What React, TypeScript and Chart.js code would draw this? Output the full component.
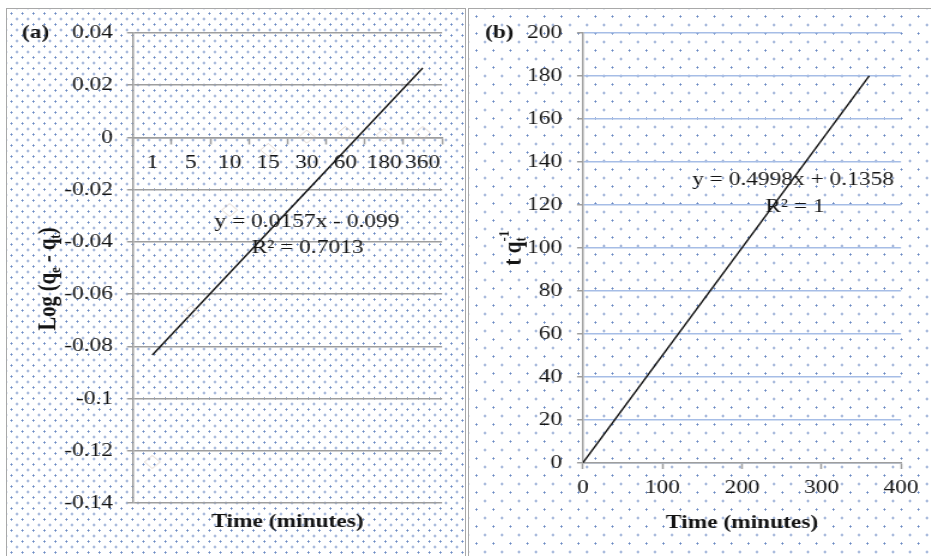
import React, { useEffect, useRef } from 'react';
import { Chart, registerables } from 'chart.js';

Chart.register(...registerables);

// ---------------- data ----------------
// panel (a): pseudo-first-order plot
const timeCategoriesA = ['1', '5', '10', '15', '30', '60', '180', '360'];
const logValuesA = [-0.1243, -0.067, -0.0278, -0.0048, 0.0003, 0.0017, 0.0009, 0.0017];
const trendEndpointsA = [-0.0833, 0.0266];
const yTickValuesA = [-0.14, -0.12, -0.1, -0.08, -0.06, -0.04, -0.02, 0, 0.02, 0.04];
const yTickLabelsA = ['-0.14', '-0.12', '-0.1', '-0.08', '-0.06', '-0.04', '-0.02', '0', '0.02', '0.04'];
const equationA = ['y = 0.0157x - 0.099', 'R² = 0.7013'];

// panel (b): pseudo-second-order plot
const trendTimesB = [0, 360];
const trendValuesB = [0.1358, 180.06];
const xTickValuesB = [0, 100, 200, 300, 400];
const yTickValuesB = [0, 20, 40, 60, 80, 100, 120, 140, 160, 180, 200];
const equationB = ['y = 0.4998x + 0.1358', 'R² = 1'];

const xTitle = 'Time (minutes)';

// ---------------- style ----------------
const FONT = '"Liberation Serif", "Times New Roman", Times, serif';
const TEXT = '#141414';
const AXIS_GRAY = '#9e9e9e';
const GRID_BLUE = '#a6bde6';
const DOT = '#6a89c2';
const STRETCH = 1.2;
const CANVAS_H = 548;
const TICK_SIZE = 19.5;

Chart.defaults.font.family = FONT;
Chart.defaults.color = TEXT;

const font = (size: number, bold = false) => `${bold ? 'bold ' : ''}${size}px ${FONT}`;

type Part = { t?: string; sub?: string; sup?: string };

function drawParts(ctx: CanvasRenderingContext2D, parts: Part[], cx: number, cy: number, size: number, rotate: boolean) {
  ctx.save();
  ctx.translate(cx, cy);
  if (rotate) ctx.rotate(-Math.PI / 2);
  const small = Math.round(size * 0.62);
  const widths = parts.map((p) => {
    if (p.t) {
      ctx.font = font(size, true);
      return ctx.measureText(p.t).width;
    }
    ctx.font = font(small, true);
    let w = 0;
    if (p.sub) w = Math.max(w, ctx.measureText(p.sub).width);
    if (p.sup) w = Math.max(w, ctx.measureText(p.sup).width);
    return w;
  });
  const total = widths.reduce((a, b) => a + b, 0);
  let x = -total / 2;
  ctx.textAlign = 'left';
  ctx.textBaseline = 'alphabetic';
  ctx.fillStyle = TEXT;
  const base = size * 0.33;
  parts.forEach((p, i) => {
    if (p.t) {
      ctx.font = font(size, true);
      ctx.fillText(p.t, x, base);
    } else {
      ctx.font = font(small, true);
      if (p.sub) ctx.fillText(p.sub, x, base + size * 0.2);
      if (p.sup) ctx.fillText(p.sup, x, base - size * 0.45);
    }
    x += widths[i];
  });
  ctx.restore();
}

function textPlugin(id: string, draw: (ctx: CanvasRenderingContext2D, chart: any) => void) {
  return {
    id,
    afterDraw(chart: any) {
      const ctx = chart.ctx as CanvasRenderingContext2D;
      ctx.save();
      draw(ctx, chart);
      ctx.restore();
    },
  };
}

function makeA(canvas: HTMLCanvasElement, S: number, Wi: number, H: number) {
  const ix = (v: number) => v / S;
  const area = { left: 127, right: 436, top: 25, bottom: 495 };
  const last = timeCategoriesA.length - 1;
  return new Chart(canvas, {
    type: 'line',
    data: {
      labels: timeCategoriesA,
      datasets: [
        {
          data: logValuesA,
          showLine: false,
          pointStyle: 'rectRot',
          pointRadius: 6.5,
          pointBorderWidth: 1,
          pointBorderColor: 'rgba(200,180,165,0.5)',
          pointBackgroundColor: 'rgba(0,0,0,0)',
        },
        {
          data: [
            { x: timeCategoriesA[0], y: trendEndpointsA[0] },
            { x: timeCategoriesA[last], y: trendEndpointsA[1] },
          ] as any,
          borderColor: '#111',
          borderWidth: 1.4,
          pointRadius: 0,
          fill: false,
        },
      ],
    },
    options: {
      animation: false,
      responsive: false,
      devicePixelRatio: 1,
      events: [],
      layout: { padding: { left: 0, right: Wi - ix(area.right), top: area.top, bottom: H - area.bottom } },
      plugins: { legend: { display: false }, tooltip: { enabled: false } },
      scales: {
        x: {
          type: 'category',
          position: { y: 0 } as any,
          offset: true,
          grid: { offset: true, drawOnChartArea: false, drawTicks: true, tickLength: 6, tickColor: AXIS_GRAY, tickWidth: 1.5 },
          border: { display: true, color: AXIS_GRAY, width: 1.5 },
          ticks: { autoSkip: false, maxRotation: 0, padding: 8, color: TEXT, font: { family: FONT, size: TICK_SIZE } },
        },
        y: {
          type: 'linear',
          min: -0.14,
          max: 0.04,
          afterBuildTicks: (s: any) => {
            s.ticks = yTickValuesA.map((v) => ({ value: v }));
          },
          afterFit: (s: any) => {
            s.width = ix(area.left);
          },
          grid: { color: AXIS_GRAY, lineWidth: 1.5, tickLength: ix(6), tickColor: AXIS_GRAY, tickWidth: 1.5 },
          border: { color: AXIS_GRAY, width: 1.5 },
          ticks: {
            padding: ix(14),
            color: TEXT,
            font: { family: FONT, size: TICK_SIZE },
            callback: (v: any) => {
              const i = yTickValuesA.findIndex((t) => Math.abs(t - Number(v)) < 1e-9);
              return i >= 0 ? yTickLabelsA[i] : '';
            },
          },
        },
      },
    },
    plugins: [
      textPlugin('textA', (ctx) => {
        ctx.fillStyle = TEXT;
        ctx.textBaseline = 'middle';
        ctx.textAlign = 'left';
        ctx.font = font(19.5, true);
        ctx.fillText('(a)', ix(16), 25);
        ctx.textAlign = 'center';
        ctx.font = font(19.5);
        ctx.fillText(equationA[0], ix(301), 214);
        ctx.fillText(equationA[1], ix(301.5), 240);
        ctx.font = font(19.5, true);
        ctx.fillText(xTitle, ix(281.5), 514);
        drawParts(ctx, [{ t: 'Log (q' }, { sub: 'e' }, { t: ' - q' }, { sub: 't' }, { t: ')' }], ix(41), 271, 20.5, true);
      }),
    ],
  } as any);
}

function makeB(canvas: HTMLCanvasElement, S: number, Wi: number, H: number) {
  const ix = (v: number) => v / S;
  const area = { left: 115, right: 433, top: 25, bottom: 455 };
  return new Chart(canvas, {
    type: 'scatter',
    data: {
      datasets: [
        {
          data: trendTimesB.map((x, i) => ({ x, y: trendValuesB[i] })),
          showLine: true,
          borderColor: '#111',
          borderWidth: 1.4,
          pointRadius: 0,
          fill: false,
        },
      ],
    },
    options: {
      animation: false,
      responsive: false,
      devicePixelRatio: 1,
      events: [],
      layout: { padding: { left: 0, right: Wi - ix(area.right), top: area.top, bottom: 0 } },
      plugins: { legend: { display: false }, tooltip: { enabled: false } },
      scales: {
        x: {
          type: 'linear',
          min: 0,
          max: 400,
          afterBuildTicks: (s: any) => {
            s.ticks = xTickValuesB.map((v) => ({ value: v }));
          },
          afterFit: (s: any) => {
            s.height = H - area.bottom;
          },
          grid: { drawOnChartArea: false, drawTicks: true, tickLength: 6, tickColor: AXIS_GRAY, tickWidth: 1.5 },
          border: { color: AXIS_GRAY, width: 1.5 },
          ticks: { padding: 7.6, color: TEXT, font: { family: FONT, size: TICK_SIZE }, maxRotation: 0, callback: (v: any) => String(v) },
        },
        y: {
          type: 'linear',
          min: 0,
          max: 200,
          afterBuildTicks: (s: any) => {
            s.ticks = yTickValuesB.map((v) => ({ value: v }));
          },
          afterFit: (s: any) => {
            s.width = ix(area.left);
          },
          grid: { color: GRID_BLUE, lineWidth: 1.5, tickLength: ix(6), tickColor: AXIS_GRAY, tickWidth: 1.5 },
          border: { color: AXIS_GRAY, width: 1.5 },
          ticks: { padding: ix(15), color: TEXT, font: { family: FONT, size: TICK_SIZE }, callback: (v: any) => String(v) },
        },
      },
    },
    plugins: [
      textPlugin('textB', (ctx) => {
        ctx.fillStyle = TEXT;
        ctx.textBaseline = 'middle';
        ctx.textAlign = 'left';
        ctx.font = font(19.5, true);
        ctx.fillText('(b)', ix(17), 25);
        ctx.textAlign = 'center';
        ctx.font = font(19.5);
        ctx.fillText(equationB[0], ix(325), 172);
        ctx.fillText(equationB[1], ix(327), 199);
        ctx.font = font(19.5, true);
        ctx.fillText(xTitle, ix(274), 515);
        drawParts(ctx, [{ t: 't q' }, { sub: 't', sup: '-1' }], ix(44), 240, 21, true);
      }),
    ],
  } as any);
}

type PanelProps = {
  left: number;
  width: number;
  dot: number;
  make: (c: HTMLCanvasElement, S: number, Wi: number, H: number) => Chart;
};

function Panel({ left, width, dot, make }: PanelProps) {
  const ref = useRef<HTMLCanvasElement>(null);
  const Wi = Math.round(width / STRETCH);
  useEffect(() => {
    const chart = make(ref.current as HTMLCanvasElement, width / Wi, Wi, CANVAS_H);
    return () => chart.destroy();
  }, []);
  const half = dot / 2;
  const dotImg = `radial-gradient(circle, ${DOT} 0.8px, rgba(255,255,255,0) 1.35px)`;
  return (
    <div
      style={{
        position: 'absolute',
        left,
        top: 8,
        width,
        height: CANVAS_H + 20,
        backgroundColor: '#ffffff',
        backgroundImage: `${dotImg}, ${dotImg}`,
        backgroundSize: `${dot}px ${dot}px`,
        backgroundPosition: `0px 0px, ${half}px ${half}px`,
      }}
    >
      <canvas
        ref={ref}
        width={Wi}
        height={CANVAS_H}
        style={{ position: 'absolute', left: 0, top: 0, width: `${width}px`, height: `${CANVAS_H}px` }}
      />
      <div
        style={{
          position: 'absolute',
          left: 0,
          top: 0,
          right: 0,
          bottom: 0,
          border: '1.5px solid #a8a8a8',
          pointerEvents: 'none',
        }}
      />
    </div>
  );
}

export default function App() {
  return (
    <div
      style={{
        position: 'absolute',
        left: 0,
        top: 0,
        width: 931,
        height: 556,
        overflow: 'hidden',
        background: '#ffffff',
      }}
    >
      <Panel left={6} width={460} dot={11} make={makeA} />
      <Panel left={468} width={470} dot={17} make={makeB} />
    </div>
  );
}
